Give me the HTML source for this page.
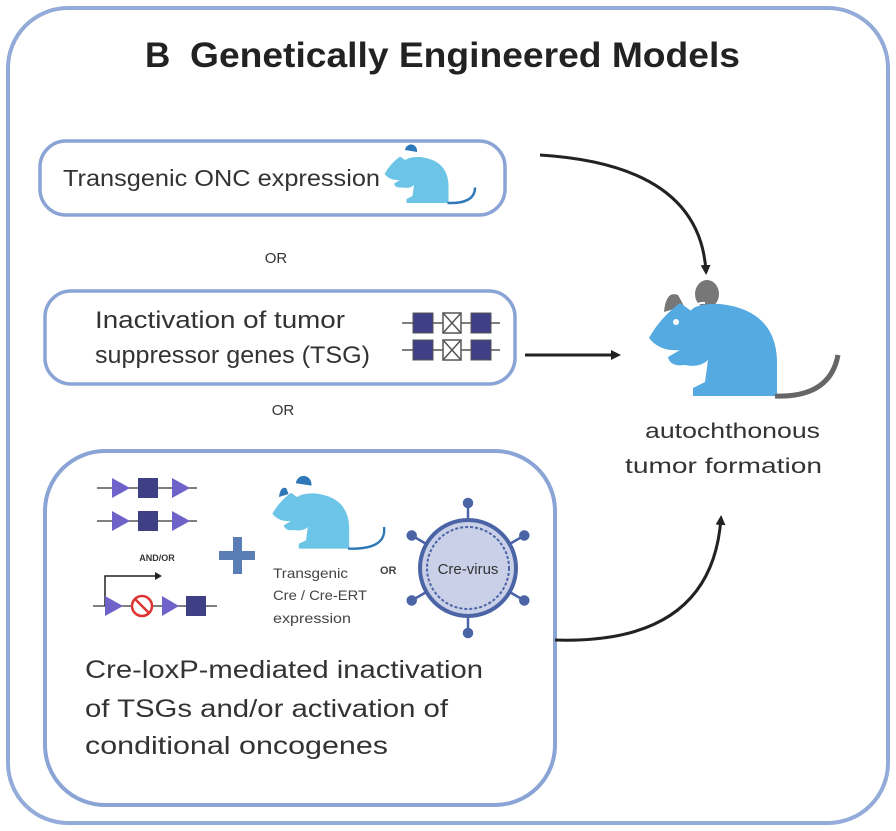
<!DOCTYPE html>
<html><head><meta charset="utf-8"><style>
html,body{margin:0;padding:0;background:#fff}
svg{display:block}
text{font-family:"Liberation Sans",sans-serif}
</style></head><body>
<svg width="896" height="831" viewBox="0 0 896 831" xmlns="http://www.w3.org/2000/svg">
<defs>
<marker id="ah" markerWidth="10" markerHeight="10" refX="7" refY="5" orient="auto" markerUnits="userSpaceOnUse" viewBox="0 0 10 10"><path d="M0,0 L10,5 L0,10 Z" fill="#222"/></marker>
<g id="mouse">
<path d="M649,338 Q660,318 680,303 L690,310 Q700,303 720,304 Q775,310 777,360 L777,396 L693,396 L693,388 L705,382 L708,360 Q700,368 685,365 Q670,367 668,357 L680,350 Q660,352 649,338 Z"/>
</g>
</defs>
<rect x="8" y="8" width="880" height="815" rx="60" fill="#fff" stroke="#93abd8" stroke-width="4"/>
<text x="145" y="67" font-size="35" font-weight="bold" fill="#222">B</text>
<text x="190" y="67" font-size="35" font-weight="bold" fill="#222" textLength="550" lengthAdjust="spacingAndGlyphs">Genetically Engineered Models</text>

<rect x="40" y="141" width="465" height="74" rx="26" fill="none" stroke="#8aa4d6" stroke-width="3.5"/>
<text x="63" y="186" font-size="23" fill="#333" textLength="317" lengthAdjust="spacingAndGlyphs">Transgenic ONC expression</text>
<g transform="translate(385,155) scale(0.5) translate(-650,-300)">
<path d="M690,290 a12,13 0 1 1 24,4 Z" fill="#2f78b8"/>
<g fill="#6cc5e6"><use href="#mouse"/></g>
<path d="M775,396 Q830,398 830,365" fill="none" stroke="#2f78b8" stroke-width="5"/></g>
<text x="276" y="263" text-anchor="middle" font-size="15" fill="#333">OR</text>

<rect x="45" y="291" width="470" height="93" rx="26" fill="none" stroke="#8aa4d6" stroke-width="3.5"/>
<text x="95" y="328" font-size="24" fill="#333" textLength="250" lengthAdjust="spacingAndGlyphs">Inactivation of tumor</text>
<text x="95" y="363" font-size="24" fill="#333" textLength="275" lengthAdjust="spacingAndGlyphs">suppressor genes (TSG)</text>
<g stroke="#555" stroke-width="1.5">
<line x1="402" y1="323" x2="500" y2="323"/><line x1="402" y1="350" x2="500" y2="350"/>
</g>
<g fill="#3f3f86" stroke="#555">
<rect x="413" y="313" width="20" height="20"/><rect x="471" y="313" width="20" height="20"/>
<rect x="413" y="340" width="20" height="20"/><rect x="471" y="340" width="20" height="20"/>
</g>
<g fill="#fff" stroke="#555" stroke-width="1.5">
<rect x="443" y="313" width="18" height="20"/><path d="M443,313 L461,333 M461,313 L443,333"/>
<rect x="443" y="340" width="18" height="20"/><path d="M443,340 L461,360 M461,340 L443,360"/>
</g>
<text x="283" y="415" text-anchor="middle" font-size="15" fill="#333">OR</text>

<rect x="45" y="451" width="510" height="354" rx="60" fill="none" stroke="#8aa4d6" stroke-width="4"/>
<g stroke="#555" stroke-width="1.5"><line x1="97" y1="488" x2="197" y2="488"/><line x1="97" y1="521" x2="197" y2="521"/><line x1="93" y1="606" x2="217" y2="606"/>
<path d="M105,606 V576 H155" fill="none" stroke="#222" stroke-width="1.5"/></g>
<path d="M155,572 L162,576 L155,580 Z" fill="#222"/>
<g fill="#6f62c9">
<path d="M112,478 L130,488 L112,498 Z"/><path d="M172,478 L190,488 L172,498 Z"/>
<path d="M112,511 L130,521 L112,531 Z"/><path d="M172,511 L190,521 L172,531 Z"/>
<path d="M105,596 L123,606 L105,616 Z"/><path d="M162,596 L179,606 L162,616 Z"/>
</g>
<g fill="#3f3f86"><rect x="138" y="478" width="20" height="20"/><rect x="138" y="511" width="20" height="20"/><rect x="186" y="596" width="20" height="20"/></g>
<circle cx="142" cy="606" r="10" fill="#fff" stroke="#d33" stroke-width="2.5"/><line x1="135" y1="599" x2="149" y2="613" stroke="#d33" stroke-width="2.5"/>
<text x="157" y="561" text-anchor="middle" font-size="9" font-weight="bold" fill="#333">AND/OR</text>
<g fill="#5b7db5"><rect x="219" y="551" width="36" height="9"/><rect x="233" y="537" width="9" height="37"/></g>
<g transform="translate(273,485) scale(0.6) translate(-650,-290)">
<path d="M688,287 a13,14 0 1 1 26,4 Z" fill="#2f78b8"/>
<path d="M660,310 Q662,292 672,295 L676,305 Z" fill="#2f78b8"/>
<g fill="#6cc5e6"><use href="#mouse"/></g>
<path d="M775,396 Q840,398 835,360" fill="none" stroke="#2f78b8" stroke-width="4"/></g>
<text x="273" y="578" font-size="14" fill="#444" textLength="75" lengthAdjust="spacingAndGlyphs">Transgenic</text>
<text x="273" y="600" font-size="14" fill="#444" textLength="94" lengthAdjust="spacingAndGlyphs">Cre / Cre-ERT</text>
<text x="273" y="623" font-size="14" fill="#444" textLength="78" lengthAdjust="spacingAndGlyphs">expression</text>
<text x="380" y="574" font-size="11" font-weight="bold" fill="#444">OR</text>
<g stroke="#4a64a6" stroke-width="2.5" fill="#4a64a6">
<g id="sp"><line x1="468" y1="520" x2="468" y2="503"/><circle cx="468" cy="503" r="4"/></g>
<use href="#sp" transform="rotate(60 468 568)"/><use href="#sp" transform="rotate(120 468 568)"/>
<use href="#sp" transform="rotate(180 468 568)"/><use href="#sp" transform="rotate(240 468 568)"/><use href="#sp" transform="rotate(300 468 568)"/>
</g>
<circle cx="468" cy="568" r="48" fill="#c9d0e8" stroke="#4a64a6" stroke-width="4"/>
<circle cx="468" cy="568" r="41" fill="none" stroke="#4a64a6" stroke-width="2" stroke-dasharray="3 2"/>
<text x="468" y="574" text-anchor="middle" font-size="15" fill="#333">Cre-virus</text>
<text x="85" y="678" font-size="25" fill="#333" textLength="398" lengthAdjust="spacingAndGlyphs">Cre-loxP-mediated inactivation</text>
<text x="85" y="717" font-size="25" fill="#333" textLength="363" lengthAdjust="spacingAndGlyphs">of TSGs and/or activation of</text>
<text x="85" y="754" font-size="25" fill="#333" textLength="303" lengthAdjust="spacingAndGlyphs">conditional oncogenes</text>

<path d="M540,155 Q700,165 706,272" fill="none" stroke="#222" stroke-width="3" marker-end="url(#ah)"/>
<line x1="525" y1="355" x2="618" y2="355" stroke="#222" stroke-width="3" marker-end="url(#ah)"/>
<path d="M555,640 Q712,645 721,518" fill="none" stroke="#222" stroke-width="3" marker-end="url(#ah)"/>

<g fill="#777"><path d="M664,312 Q666,290 678,295 L684,306 Z"/><ellipse cx="707" cy="294" rx="12" ry="14"/></g>
<g fill="#55aae2"><use href="#mouse"/></g>
<circle cx="676" cy="322" r="3" fill="#fff"/>
<path d="M690,310 Q697,302 705,303" fill="none" stroke="#fff" stroke-width="2"/>
<path d="M775,396 Q830,398 838,355" fill="none" stroke="#666" stroke-width="5"/>
<text x="645" y="438" font-size="21" fill="#333" textLength="175" lengthAdjust="spacingAndGlyphs">autochthonous</text>
<text x="625" y="473" font-size="21" fill="#333" textLength="197" lengthAdjust="spacingAndGlyphs">tumor formation</text>
</svg>
</body></html>
